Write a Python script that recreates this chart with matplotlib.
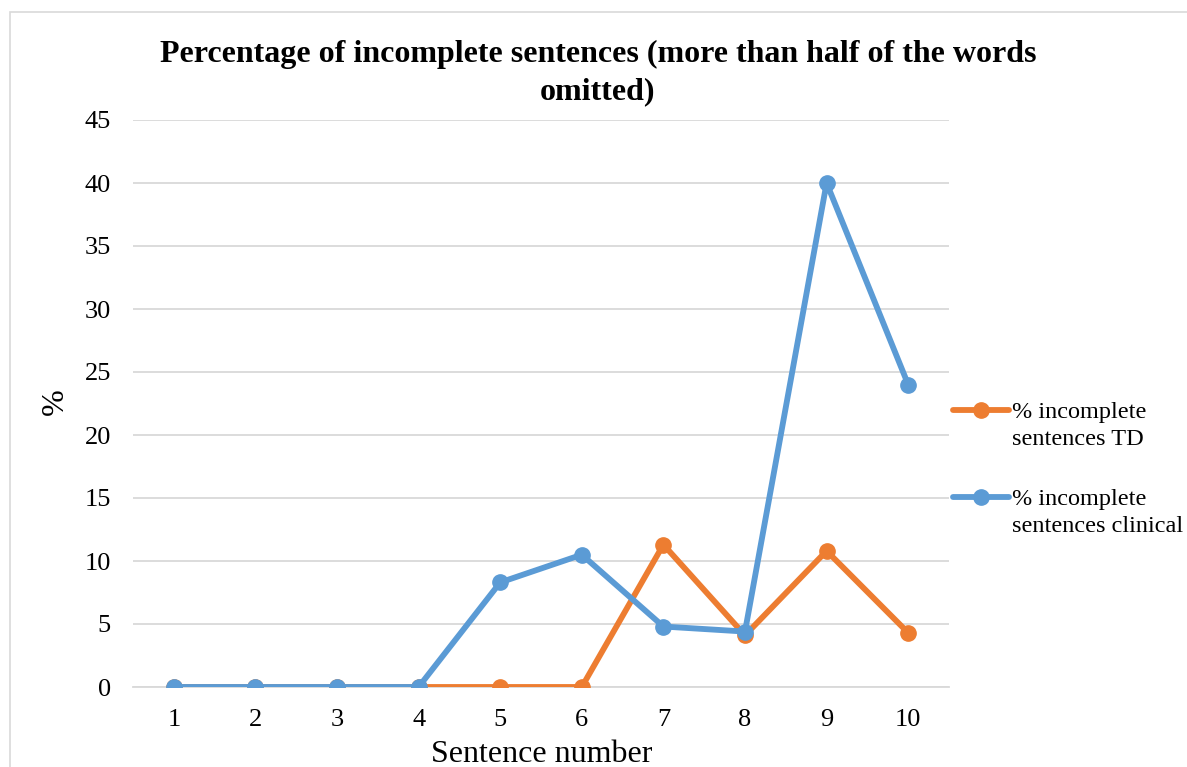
import matplotlib
matplotlib.use("Agg")
import matplotlib.pyplot as plt
from matplotlib.lines import Line2D
from matplotlib.patches import Rectangle

# Data
sentences = [1, 2, 3, 4, 5, 6, 7, 8, 9, 10]
td_pct = [0, 0, 0, 0, 0, 0, 11.3, 4.1, 10.8, 4.3]
clinical_pct = [0, 0, 0, 0, 8.3, 10.5, 4.8, 4.4, 40.0, 24.0]
series_labels = ["% incomplete\nsentences TD", "% incomplete\nsentences clinical"]
y_ticks = [0, 5, 10, 15, 20, 25, 30, 35, 40, 45]

plt.rcParams["font.family"] = ["Liberation Serif", "DejaVu Serif"]

W, H = 1187, 767
fig = plt.figure(figsize=(W / 100, H / 100), dpi=100)
fig.patch.set_facecolor("white")

# Chart frame
fig.patches.append(Rectangle((10 / W, -0.01), 1.2, 1 - 12 / H + 0.01,
                             transform=fig.transFigure, fill=False,
                             edgecolor="#d9d9d9", linewidth=1.2))

ax = fig.add_axes([133 / W, 1 - 687 / H, (949 - 133) / W, (687 - 120) / H])
pw, ph = 949 - 133, 687 - 120

orange = "#ed7d31"
blue = "#5b9bd5"
colors = [orange, blue]
ax.plot(sentences, td_pct, color=orange, linewidth=4.2, marker="o",
        markersize=11, solid_capstyle="round", zorder=3)
ax.plot(sentences, clinical_pct, color=blue, linewidth=4.2, marker="o",
        markersize=11, solid_capstyle="round", zorder=4)

ax.set_xlim(0.5, 10.5)
ax.set_ylim(0, 45)
ax.set_yticks(y_ticks)
ax.set_xticks(sentences)
ax.grid(axis="y", color="#d9d9d9", linewidth=1.3)
ax.set_axisbelow(True)
for s in ["top", "right", "left"]:
    ax.spines[s].set_visible(False)
ax.spines["bottom"].set_color("#d9d9d9")
ax.spines["bottom"].set_linewidth(1.3)
ax.tick_params(axis="both", length=0, labelsize=19, labelcolor="black")
ax.tick_params(axis="y", pad=16)
ax.tick_params(axis="x", pad=16)

ax.set_xlabel("Sentence number", fontsize=23)
ax.xaxis.set_label_coords((542 - 133) / pw, (687 - 754) / ph)
ax.xaxis.label.set_va("center")
ax.set_ylabel("%", fontsize=23)
ax.yaxis.set_label_coords((70 - 133) / pw, (687 - 402) / ph)

fig.text(598 / W, 1 - 54 / H, "Percentage of incomplete sentences (more than half of the words",
         ha="center", va="center", fontsize=23, fontweight="bold")
fig.text(598 / W, 1 - 92 / H, "omitted)", ha="center", va="center",
         fontsize=23, fontweight="bold")

# Legend: handle sits beside the first line of each two-line label
legend_rows = [410, 497]
for label, color, row in zip(series_labels, colors, legend_rows):
    y = 1 - row / H
    fig.add_artist(Line2D([953 / W, 981 / W, 1009 / W], [y, y, y],
                          transform=fig.transFigure, color=color,
                          linewidth=4.2, marker="o", markersize=11,
                          markevery=[1], solid_capstyle="round"))
    fig.text(1012 / W, 1 - (row + 16) / H, label, ha="left", va="center",
             fontsize=17.5, linespacing=1.42)

fig.savefig("out.png", dpi=100)
